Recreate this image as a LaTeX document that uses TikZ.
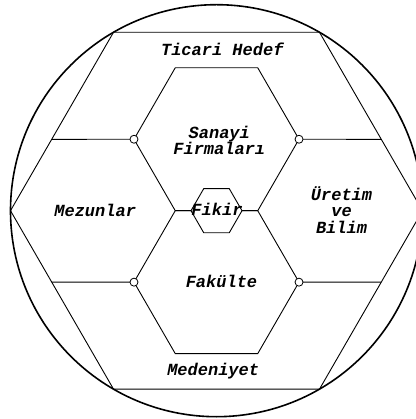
\documentclass[tikz,border=0pt]{standalone}
\usepackage{fontspec}
\setmainfont{Liberation Mono}
\usetikzlibrary{shapes.geometric,calc}

\begin{document}
\begin{tikzpicture}[x=1pt,y=1pt,font=\fontsize{17}{16.5}\selectfont\bfseries\itshape]
  \tikzset{hexa/.style={draw, regular polygon, regular polygon sides=6, inner sep=0pt, outer sep=0pt, line width=0.9pt},
    dot/.style={draw, circle, fill=white, minimum size=8pt, inner sep=0pt, outer sep=0pt, line width=0.8pt},
    lbl/.style={anchor=base, align=center, inner sep=0pt}}
  \useasboundingbox (-216.5,-208.3) rectangle (198.5,210.7);

  \node[draw, circle, minimum size=412pt, inner sep=0pt, line width=1.6pt] (rim) at (0,0) {};
  \node[hexa, minimum size=412pt] (outer) at (0,0) {};
  \node[hexa, minimum size=165pt] (upper) at (0,71.45) {};
  \node[hexa, minimum size=165pt] (lower) at (0,-71.45) {};
  \node[hexa, fill=white, minimum size=51pt] (fikir) at (0,0) {};

  % small joints
  \node[dot] (ul) at (upper.180) {};
  \node[dot] (ur) at (upper.0) {};
  \node[dot] (ll) at (lower.180) {};
  \node[dot] (lr) at (lower.0) {};
  \coordinate (eul) at ($(outer.180)!0.4!(outer.120)$);
  \coordinate (eur) at ($(outer.0)!0.4!(outer.60)$);
  \coordinate (ell) at ($(outer.180)!0.4!(outer.240)$);
  \coordinate (elr) at ($(outer.0)!0.4!(outer.300)$);
  \draw[line width=0.9pt] (eul) -- (ul);
  \draw[line width=0.9pt] (eur) -- (ur);
  \draw[line width=0.9pt] (ell) -- (ll);
  \draw[line width=0.9pt] (elr) -- (lr);

  \node[lbl] (ticari) at (5.8,155.4) {Ticari Hedef};
  \node[lbl] (sanayi) at (2.8,56) {Sanayi\\Firmaları};
  \node[lbl] (mezun) at (-121.3,-6) {Mezunlar};
  \node[lbl] (fikirt) at (0.5,-5) {Fikir};
  \node[lbl] (uretim) at (125,-22.6) {Üretim\\ve\\Bilim};
  \node[lbl] (fakulte) at (5,-77) {Fakülte};
  \node[lbl] (medeniyet) at (-3.3,-164.3) {Medeniyet};
\end{tikzpicture}
\end{document}
